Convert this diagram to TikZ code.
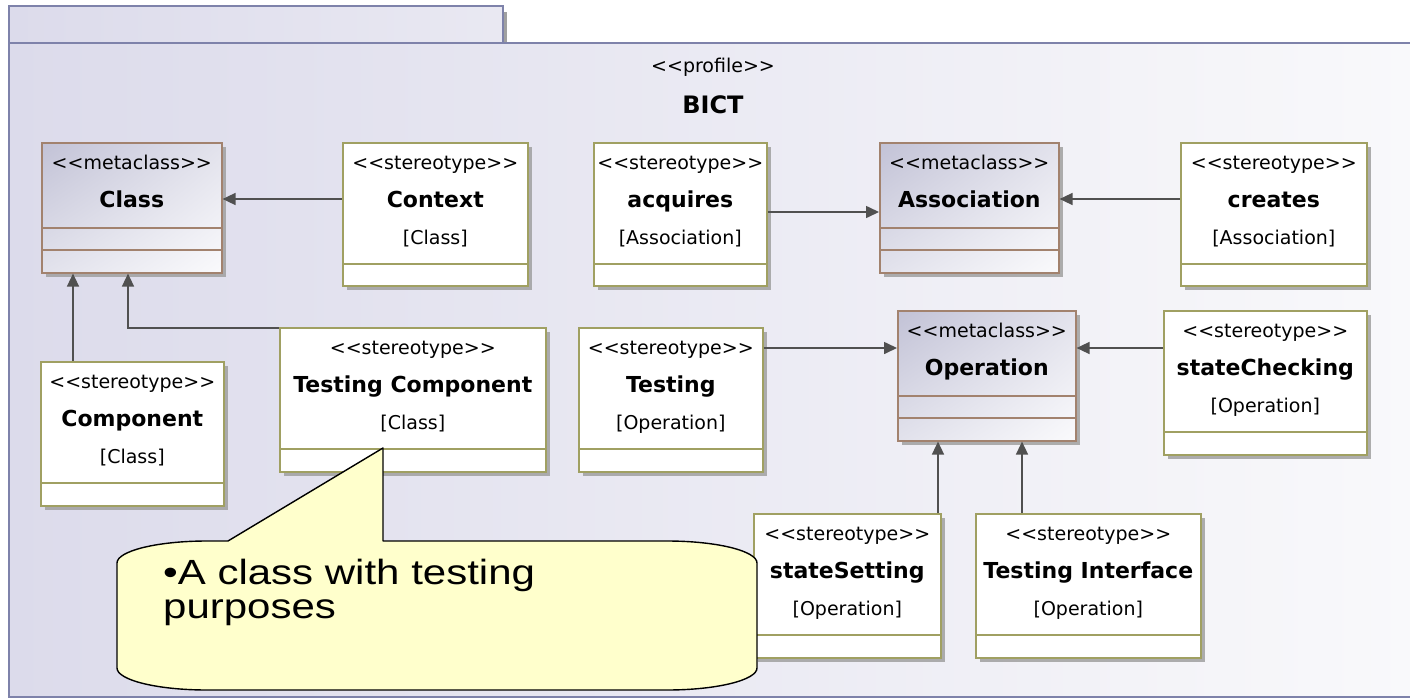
\documentclass[tikz,border=0pt]{standalone}
\usepackage{fontspec}
\newfontfamily\umlfont{DejaVu Sans}
\newfontfamily\notefont[FakeStretch=1.2]{Liberation Sans}
\usetikzlibrary{arrows.meta,shadows,shadings,calc}
\definecolor{bgL}{HTML}{DCDBEB}
\definecolor{bgR}{HTML}{F9F9FB}
\definecolor{framec}{HTML}{7E82AA}
\definecolor{metaTL}{HTML}{C2C2D6}
\definecolor{metaMid}{HTML}{E2E2EC}
\definecolor{metaBR}{HTML}{FAFAFC}
\definecolor{metaborder}{HTML}{A2826E}
\definecolor{stborder}{HTML}{A0A062}
\definecolor{arrowc}{HTML}{505050}
\definecolor{notefill}{HTML}{FFFFCC}
\definecolor{shadowc}{HTML}{A0A0A0}
\tikzset{
  boxshadow/.style={drop shadow={shadow xshift=4pt,shadow yshift=-4pt,fill=shadowc,opacity=0.85}},
  stbox/.style={draw=stborder,line width=1.6pt,fill=white,inner sep=0pt,anchor=north west,boxshadow},
  metabox/.style={draw=metaborder,line width=1.6pt,inner sep=0pt,anchor=north west,boxshadow,
    upper left=metaTL,upper right=metaMid,lower left=metaMid,lower right=metaBR},
  sttext/.style={font=\umlfont\fontsize{19}{22}\selectfont,inner sep=0pt,anchor=base,text=black},
  nmtext/.style={font=\umlfont\bfseries\fontsize{22}{26}\selectfont,inner sep=0pt,anchor=base,text=black},
  arr/.style={draw=arrowc,line width=1.6pt,-{Triangle[length=13pt,width=12pt]},arrowc},
  framel/.style={draw=framec,line width=2pt},
  note/.style={draw=black,line width=1.4pt,fill=notefill,line join=round},
  notetext/.style={font=\notefont\fontsize{35}{38}\selectfont,inner sep=0pt,anchor=base west,text=black}
}
\newcommand\mkstereo[7]{%
  \node[stbox,minimum width=#4pt,minimum height=#5pt] (#1) at (#2,#3) {};
  \draw[stborder,line width=1.6pt] ([yshift=-122pt]#1.north west) -- ([yshift=-122pt]#1.north east);
  \node[sttext] (#1-s) at ([yshift=-27pt]#1.north) {<\kern0pt<stereotype>\kern0pt>};
  \node[nmtext] (#1-n) at ([yshift=-65pt]#1.north) {#6};
  \node[sttext] (#1-b) at ([yshift=-102pt]#1.north) {[#7]};
}
\newcommand\mkmeta[5]{%
  \node[metabox,minimum width=#4pt,minimum height=130pt] (#1) at (#2,#3) {};
  \draw[metaborder,line width=1.6pt] ([yshift=-86pt]#1.north west) -- ([yshift=-86pt]#1.north east);
  \draw[metaborder,line width=1.6pt] ([yshift=-108pt]#1.north west) -- ([yshift=-108pt]#1.north east);
  \node[sttext] (#1-s) at ([yshift=-27pt]#1.north) {<\kern0pt<metaclass>\kern0pt>};
  \node[nmtext] (#1-n) at ([yshift=-65pt]#1.north) {#5};
}
\begin{document}
\begin{tikzpicture}[x=1pt,y=-1pt]
\useasboundingbox (0,0) rectangle (1410,699);
\fill[white] (0,0) rectangle (1410,699);
% package frame
\fill[left color=bgL,right color=bgR] (9,43) rectangle (1414,697);
\fill[shadowc] (503,12) rectangle (507,43);
\fill[left color=bgL,right color=bgL!55!bgR] (9,6) rectangle (503,43);
\draw[framel] (9,6) rectangle (503,43);
\draw[framel] (1414,43) -- (9,43) -- (9,697) -- (1414,697);
% title
\node[sttext] (prof) at (713,72) {<\kern0pt<profile>\kern0pt>};
\node[nmtext,font=\umlfont\bfseries\fontsize{24}{28}\selectfont] (bict) at (713,113) {BICT};
% metaclasses
\mkmeta{class}{41}{142}{180}{Class}
\mkmeta{assoc}{879}{142}{179}{Association}
\mkmeta{oper}{897}{310}{178}{Operation}
% stereotypes
\mkstereo{context}{342}{142}{185}{143}{Context}{Class}
\mkstereo{acq}{593}{142}{173}{143}{acquires}{Association}
\mkstereo{creates}{1180}{142}{186}{143}{creates}{Association}
\mkstereo{comp}{40}{361}{183}{144}{Component}{Class}
\mkstereo{tcomp}{279}{327}{266}{144}{Testing Component}{Class}
\mkstereo{testing}{578}{327}{184}{144}{Testing}{Operation}
\mkstereo{schk}{1163}{310}{203}{144}{stateChecking}{Operation}
\mkstereo{sset}{753}{513}{187}{144}{stateSetting}{Operation}
\mkstereo{tint}{975}{513}{225}{144}{Testing Interface}{Operation}
% connectors
\coordinate (c1) at ([yshift=-57pt]context.north west);
\draw[arr] (c1) -- (c1 -| class.east);
\coordinate (c2) at ([yshift=-70pt]acq.north east);
\draw[arr] (c2) -- (c2 -| assoc.west);
\coordinate (c3) at ([yshift=-57pt]creates.north west);
\draw[arr] (c3) -- (c3 -| assoc.east);
\coordinate (c4) at ([xshift=33pt]comp.north west);
\draw[arr] (c4) -- (c4 |- class.south);
\coordinate (c5) at ([yshift=-1pt]tcomp.north west);
\draw[arr] (c5) -| ([xshift=87pt]class.south west);
\coordinate (c6) at ([yshift=-21pt]testing.north east);
\draw[arr] (c6) -- (c6 -| oper.west);
\coordinate (c7) at ([yshift=-38pt]schk.north west);
\draw[arr] (c7) -- (c7 -| oper.east);
\coordinate (c8) at ([xshift=185pt]sset.north west);
\draw[arr] (c8) -- (c8 |- oper.south);
\coordinate (c9) at ([xshift=47pt]tint.north west);
\draw[arr] (c9) -- (c9 |- oper.south);
% note callout
\draw[note] (383,448) -- (383,541) -- (667,541)
  .. controls (717,541) and (757,551) .. (757,563) -- (757,668)
  .. controls (757,680) and (717,690) .. (667,690) -- (207,690)
  .. controls (157,690) and (117,680) .. (117,668) -- (117,563)
  .. controls (117,551) and (157,541) .. (207,541) -- (228,541) -- cycle;
\node[notetext] (note1) at (163,584) {•A class with testing};
\node[notetext] (note2) at (163,618) {purposes};
\end{tikzpicture}
\end{document}
